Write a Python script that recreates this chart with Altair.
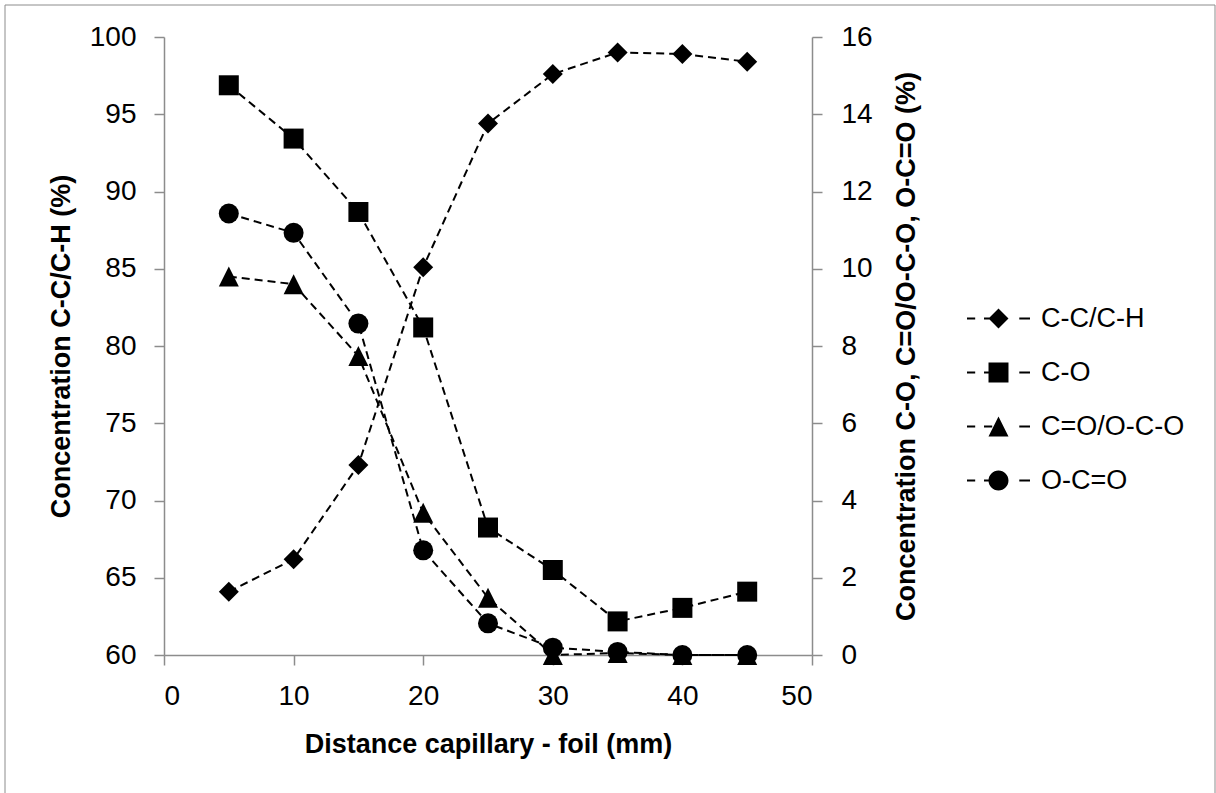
import altair as alt
import pandas as pd

# Distance between capillary and foil (mm)
distance = [5, 10, 15, 20, 25, 30, 35, 40, 45]

# Relative concentrations of carbon bonds (%)
cc_ch = [64.1, 66.2, 72.3, 85.1, 94.4, 97.6, 99.0, 98.9, 98.4]   # left axis
c_o = [14.75, 13.37, 11.47, 8.48, 3.30, 2.20, 0.87, 1.22, 1.64]   # right axis
c_eq_o = [9.8, 9.6, 7.74, 3.68, 1.48, 0.0, 0.05, 0.0, 0.0]        # right axis
o_c_eq_o = [11.43, 10.93, 8.58, 2.71, 0.82, 0.19, 0.08, 0.0, 0.0]  # right axis

series_names = ["C-C/C-H", "C-O", "C=O/O-C-O", "O-C=O"]

left_df = pd.DataFrame({"distance": distance, "value": cc_ch, "series": series_names[0]})
right_df = pd.concat(
    [
        pd.DataFrame({"distance": distance, "value": vals, "series": name})
        for name, vals in zip(series_names[1:], [c_o, c_eq_o, o_c_eq_o])
    ],
    ignore_index=True,
)

FONT = "Liberation Sans"
GREY = "#8c8c8c"

# marker shapes used on the plot
tri = "M0,-1L1,1L-1,1Z"
marker_shapes = ["diamond", "square", tri, "circle"]

# legend keys: dashed line segments with the marker in the middle
dash = (
    "M-1,-0.035H-0.74V0.035H-1Z"
    "M-0.46,-0.035H-0.2V0.035H-0.46Z"
    "M0.66,-0.035H1V0.035H0.66Z"
)
m = 0.317
legend_paths = [
    dash + f"M-{m},0L0,-{m}L{m},0L0,{m}Z",
    dash + f"M-{m},-{m}H{m}V{m}H-{m}Z",
    dash + f"M0,-{m}L{m},{m}H-{m}Z",
    dash + f"M{m},0A{m},{m},0,1,1,-{m},0A{m},{m},0,1,1,{m},0Z",
]

x_enc = alt.X(
    "distance:Q",
    scale=alt.Scale(domain=[0, 50], nice=False),
    axis=alt.Axis(
        values=[0, 10, 20, 30, 40, 50],
        title="Distance capillary - foil (mm)",
        titleX=324,
        titleY=97,
        titleBaseline="alphabetic",
        labelPadding=17,
    ),
)

shape_enc = alt.Shape(
    "series:N",
    scale=alt.Scale(domain=series_names, range=marker_shapes),
    legend=None,
)

line_style = dict(color="black", strokeWidth=2, strokeDash=[8, 5])
point_style = dict(filled=True, color="black", size=400, opacity=1)

left_y = alt.Y(
    "value:Q",
    scale=alt.Scale(domain=[60, 100], nice=False, zero=False),
    axis=alt.Axis(
        orient="left",
        values=[60, 65, 70, 75, 80, 85, 90, 95, 100],
        title="Concentration C-C/C-H (%)",
        titleAngle=270,
        titleX=-95,
        titleY=309,
        titleBaseline="alphabetic",
        labelPadding=18,
    ),
)

right_y = alt.Y(
    "value:Q",
    scale=alt.Scale(domain=[0, 16], nice=False),
    axis=alt.Axis(
        orient="right",
        values=[0, 2, 4, 6, 8, 10, 12, 14, 16],
        title="Concentration C-O, C=O/O-C-O, O-C=O (%)",
        titleAngle=270,
        titleX=102,
        titleY=309,
        titleBaseline="alphabetic",
        labelPadding=19,
    ),
)

left = alt.layer(
    alt.Chart(left_df).mark_line(**line_style).encode(x=x_enc, y=left_y, detail="series:N"),
    alt.Chart(left_df).mark_point(**point_style).encode(x=x_enc, y=left_y, shape=shape_enc),
)

right = alt.layer(
    alt.Chart(right_df).mark_line(**line_style).encode(x=x_enc, y=right_y, detail="series:N"),
    alt.Chart(right_df).mark_point(**point_style).encode(x=x_enc, y=right_y, shape=shape_enc),
)

# legend-only layer: no rows are drawn, the scale domain lists every series
legend_layer = (
    alt.Chart(left_df)
    .transform_filter("false")
    .mark_point(filled=True, color="black", opacity=1)
    .encode(
        x=alt.X("distance:Q", scale=alt.Scale(domain=[0, 50], nice=False)),
        y=alt.Y("value:Q", axis=None),
        shape=alt.Shape(
            "series:N",
            scale=alt.Scale(domain=series_names, range=legend_paths),
            legend=alt.Legend(
                title=None,
                orient="none",
                legendX=803,
                legendY=250,
                symbolSize=3969,
                symbolFillColor="black",
                symbolStrokeWidth=0,
                symbolOpacity=1,
                labelFont=FONT,
                labelFontSize=27,
                labelColor="black",
                labelOffset=11,
                rowPadding=9,
                padding=0,
            ),
        ),
    )
)

# outer chart frame
frame = (
    alt.Chart(alt.Data(values=[{}]))
    .mark_rect(fill="transparent", stroke=GREY, strokeWidth=1)
    .encode(
        x=alt.value(-159),
        x2=alt.value(1051),
        y=alt.value(-32),
        y2=alt.value(770),
    )
)

chart = (
    alt.layer(frame, left, right, legend_layer)
    .resolve_scale(y="independent", shape="independent")
    .properties(
        width=648,
        height=618,
        autosize=alt.AutoSizeParams(type="none"),
        padding={"left": 164, "top": 37, "right": 404, "bottom": 138},
        background="white",
    )
    .configure_view(stroke=None)
    .configure_axis(
        grid=False,
        domainColor=GREY,
        domainWidth=1.5,
        tickColor=GREY,
        tickWidth=1.5,
        tickSize=10,
        labelFont=FONT,
        labelFontSize=28,
        labelColor="black",
        titleFont=FONT,
        titleFontSize=27,
        titleFontWeight="bold",
        titleColor="black",
    )
)

chart.save("out.html", embed_options={"renderer": "svg", "actions": False})
